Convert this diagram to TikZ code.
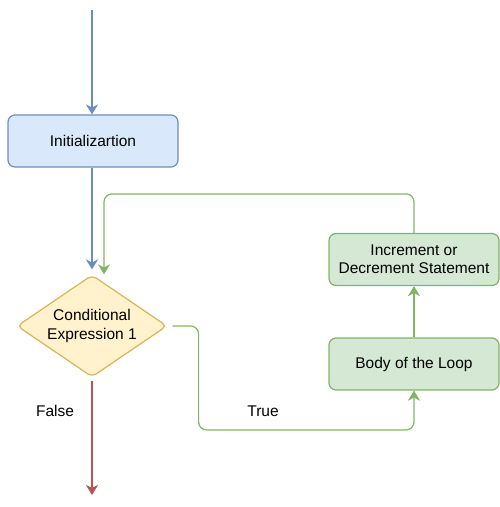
\documentclass[tikz,border=0pt]{standalone}
\usepackage{fontspec}
\setmainfont{Liberation Sans}
\usetikzlibrary{shapes.geometric,arrows.meta}
\definecolor{initfill}{HTML}{DAE8FC}
\definecolor{initline}{HTML}{6C8EBF}
\definecolor{condfill}{HTML}{FFF2CC}
\definecolor{condline}{HTML}{D6B656}
\definecolor{loopfill}{HTML}{D5E8D4}
\definecolor{loopline}{HTML}{82B366}
\definecolor{exitline}{HTML}{B85450}

\begin{document}
\begin{tikzpicture}[x=1pt, y=-1pt, line width=1.2pt,
    box/.style={rectangle, rounded corners=7pt, minimum width=170pt, minimum height=52pt,
      align=center, font=\fontsize{15.5}{18.3}\selectfont},
    tip/.style={-{Stealth[length=10pt, width=12pt, inset=3pt]}}]
  % Fix the page to the size of the reference
  \useasboundingbox (0,0) rectangle (500,507);

  % Blocks of the loop
  \node[box, fill=initfill, draw=initline] (init) at (93,141) {Initializartion};
  \node[diamond, rounded corners=5pt, shape aspect=1.5, inner sep=0pt, minimum width=150pt,
    minimum height=102pt, fill=condfill, draw=condline, align=center,
    font=\fontsize{15.5}{18.3}\selectfont] (cond) at (92,326) {Conditional\\Expression 1};
  \node[box, fill=loopfill, draw=loopline] (inc) at (414,259.5) {Increment or\\Decrement Statement};
  \node[box, fill=loopfill, draw=loopline] (body) at (414,364) {Body of the Loop};

  % Free ends
  \coordinate (start) at (92,10);
  \coordinate (exit) at (92,495);

  % Connectors
  \draw[tip, initline] (start) -- (init.north -| start);
  \draw[tip, initline] (init.south -| start) -- ([yshift=5pt]cond.north -| start);
  \draw[tip, loopline, rounded corners=8pt] (inc.north) -- ++(0,-39) -| ([xshift=12pt]cond.north);
  \draw[tip, loopline, rounded corners=8pt] ([xshift=5pt]cond.east) -| ++(26,104) -| (body.south);
  \draw[tip, loopline] (body.north) -- (inc.south);
  \draw[tip, exitline] ([yshift=-3pt]cond.south) -- (exit);

  % Labels
  \node[font=\fontsize{15.5}{18.3}\selectfont] (false) at (55,411) {False};
  \node[font=\fontsize{15.5}{18.3}\selectfont] (true) at (263,411) {True};
\end{tikzpicture}
\end{document}
